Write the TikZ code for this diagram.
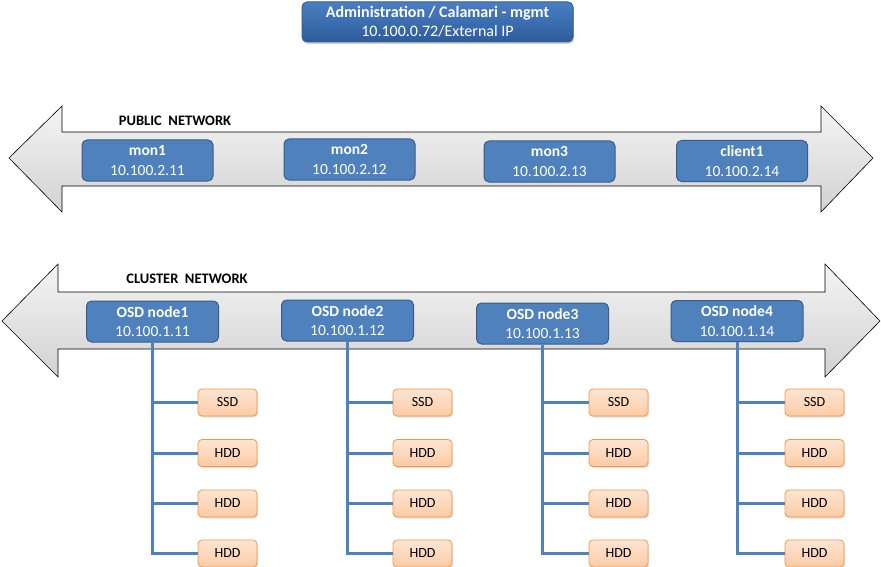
\documentclass[tikz,border=0pt]{standalone}
\usepackage{fontspec}
\setmainfont{Carlito}
\usetikzlibrary{shadows}
\definecolor{bluefill}{HTML}{4F81BD}
\definecolor{blueedge}{HTML}{385D8A}
\definecolor{topA}{HTML}{4A7EC2}
\definecolor{topB}{HTML}{2D5C9C}
\definecolor{diskA}{HTML}{FDE5D2}
\definecolor{diskB}{HTML}{FBCBA5}
\definecolor{diskedge}{HTML}{F79646}
\definecolor{arrA}{HTML}{F4F4F4}
\definecolor{arrB}{HTML}{D2D2D2}
\tikzset{
  hostbox/.style={draw=blueedge, line width=1pt, fill=bluefill, rounded corners=5pt,
    minimum width=131pt, minimum height=41pt, inner sep=0pt, text=white, align=center,
    font=\fontsize{15.5}{19.5}\selectfont},
  mgmtbox/.style={draw=blueedge, line width=1pt, top color=topA, bottom color=topB, rounded corners=5pt,
    minimum width=271pt, minimum height=40pt, inner sep=0pt, text=white, align=center,
    font=\fontsize{16}{19}\selectfont, drop shadow={opacity=0.35, shadow xshift=1pt, shadow yshift=-2pt}},
  diskbox/.style={draw=diskedge, line width=0.8pt, top color=diskA, bottom color=diskB, rounded corners=4pt,
    minimum width=59pt, minimum height=27pt, inner sep=0pt, font=\fontsize{14}{16}\selectfont,
    drop shadow={opacity=0.25, shadow xshift=1pt, shadow yshift=-1.5pt}},
  netarrow/.style={draw=black, line width=0.6pt, top color=arrA, bottom color=arrB},
  netlabel/.style={font=\fontsize{14.5}{16}\selectfont\bfseries, inner sep=0pt},
  bus/.style={draw=bluefill, line width=3pt},
}
\begin{document}
\begin{tikzpicture}[x=1pt,y=-1pt]
\useasboundingbox (0,0) rectangle (881,567);
% network arrows
\path[netarrow] (9,158) -- (62,106) -- (62,132) -- (821,132) -- (821,106) -- (873,158)
  -- (821,212) -- (821,186) -- (62,186) -- (62,212) -- cycle;
\path[netarrow] (2,321) -- (58,264) -- (58,292) -- (825,292) -- (825,264) -- (880,321)
  -- (825,377) -- (825,349) -- (58,349) -- (58,377) -- cycle;
\node[netlabel] (publab) at (175,121) {PUBLIC\ \ NETWORK};
\node[netlabel] (clulab) at (187,279) {CLUSTER\ \ NETWORK};
% management
\node[mgmtbox] (mgmt) at (437.5,22) {\textbf{Administration / Calamari - mgmt}\\10.100.0.72/External IP};
% public hosts
\node[hostbox] (mon1) at (147.5,160.5) {\textbf{mon1}\\10.100.2.11};
\node[hostbox] (mon2) at (349.5,159.5) {\textbf{mon2}\\10.100.2.12};
\node[hostbox] (mon3) at (549.5,161.5) {\textbf{mon3}\\10.100.2.13};
\node[hostbox] (client1) at (742,161) {\textbf{client1}\\10.100.2.14};
% OSD nodes
\foreach \i/\x/\y in {1/152.5/321.5, 2/347.5/320.5, 3/542.5/323.5, 4/737/321} {
  \node[hostbox, minimum width=132pt] (osd\i) at (\x,\y) {\textbf{OSD node\i}\\10.100.1.1\i};
}
% disks
\foreach \i/\dx in {1/227.5, 2/422.5, 3/618.5, 4/814.5} {
  \node[diskbox] (d\i a) at (\dx,402.5) {SSD};
  \node[diskbox] (d\i b) at (\dx,453) {HDD};
  \node[diskbox] (d\i c) at (\dx,503.5) {HDD};
  \node[diskbox] (d\i d) at (\dx,553.5) {HDD};
  \draw[bus] (osd\i.south) -- (osd\i.south |- d\i d.west) -- (d\i d.west);
  \draw[bus] (osd\i.south |- d\i a.west) -- (d\i a.west);
  \draw[bus] (osd\i.south |- d\i b.west) -- (d\i b.west);
  \draw[bus] (osd\i.south |- d\i c.west) -- (d\i c.west);
}
\end{tikzpicture}
\end{document}
